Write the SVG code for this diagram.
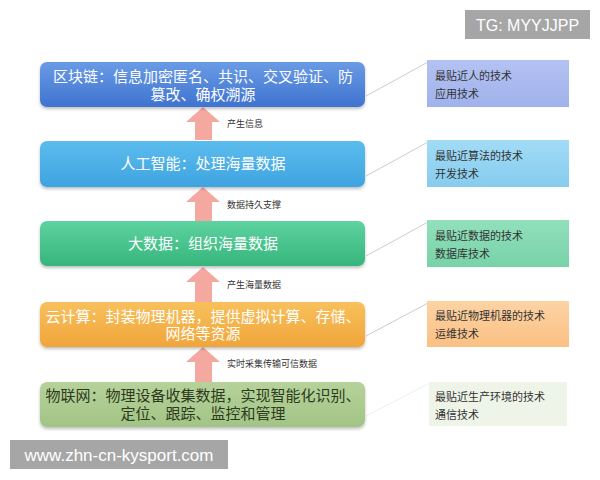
<svg xmlns="http://www.w3.org/2000/svg" width="600" height="480" viewBox="0 0 600 480">
<defs>
<linearGradient id="g1" x1="0" y1="0" x2="0" y2="1"><stop offset="0" stop-color="#6a9be6"/><stop offset="1" stop-color="#3f73cf"/></linearGradient>
<linearGradient id="g2" x1="0" y1="0" x2="0" y2="1"><stop offset="0" stop-color="#5cbcee"/><stop offset="1" stop-color="#3ea4e0"/></linearGradient>
<linearGradient id="g3" x1="0" y1="0" x2="0" y2="1"><stop offset="0" stop-color="#5ed3a0"/><stop offset="1" stop-color="#36b57c"/></linearGradient>
<linearGradient id="g4" x1="0" y1="0" x2="0" y2="1"><stop offset="0" stop-color="#f8c05c"/><stop offset="1" stop-color="#f0a53a"/></linearGradient>
<linearGradient id="g5" x1="0" y1="0" x2="0" y2="1"><stop offset="0" stop-color="#b6d29a"/><stop offset="1" stop-color="#a2c486"/></linearGradient>
<linearGradient id="r1" x1="0" y1="0" x2="0" y2="1"><stop offset="0" stop-color="#b4c2f2"/><stop offset="1" stop-color="#a0b2ec"/></linearGradient>
<linearGradient id="r2" x1="0" y1="0" x2="0" y2="1"><stop offset="0" stop-color="#a2dcf6"/><stop offset="1" stop-color="#86cbee"/></linearGradient>
<linearGradient id="r3" x1="0" y1="0" x2="0" y2="1"><stop offset="0" stop-color="#92e0bc"/><stop offset="1" stop-color="#78d2a8"/></linearGradient>
<linearGradient id="r4" x1="0" y1="0" x2="0" y2="1"><stop offset="0" stop-color="#fdd3a4"/><stop offset="1" stop-color="#fbc084"/></linearGradient>
<filter id="sh" x="-5%" y="-20%" width="110%" height="150%"><feDropShadow dx="0" dy="2" stdDeviation="1.5" flood-color="#000" flood-opacity="0.25"/></filter>
</defs>
<style>
.mt{font-family:"Liberation Sans","Noto Sans CJK SC",sans-serif;font-size:15px;fill:#fff;text-anchor:middle}
.mtd{font-family:"Liberation Sans","Noto Sans CJK SC",sans-serif;font-size:15px;fill:#2e3a20;text-anchor:middle}
.rt{font-family:"Liberation Sans","Noto Sans CJK SC",sans-serif;font-size:11px;fill:#333}
.al{font-family:"Liberation Sans","Noto Sans CJK SC",sans-serif;font-size:9px;fill:#333}
.arr{fill:#f5a8a0}
.ln{stroke:#c8ccd0;stroke-width:1;fill:none}
.wm{font-family:"Liberation Sans","Noto Sans CJK SC",sans-serif;fill:#fff;text-anchor:middle}
</style>
<rect width="600" height="480" fill="#fff"/>

<g id="connectors">
<line class="ln" x1="366" y1="96" x2="428" y2="62"/>
<line class="ln" x1="366" y1="176" x2="428" y2="142"/>
<line class="ln" x1="366" y1="256" x2="428" y2="222"/>
<line class="ln" x1="366" y1="336" x2="428" y2="303"/>
<line class="ln" x1="366" y1="416" x2="428" y2="384" stroke-opacity="0.35"/>
<polygon class="arr" points="195,140 195,122 186,122 203,107 220,122 212,122 212,140"/>
<polygon class="arr" points="195,221 195,202 186,202 203,187 220,202 212,202 212,221"/>
<polygon class="arr" points="195,302 195,282 186,282 203,267 220,282 212,282 212,302"/>
<polygon class="arr" points="195,382 195,362 186,362 203,347 220,362 212,362 212,382"/>
<text class="al" x="227" y="127">产生信息</text>
<text class="al" x="227" y="208">数据持久支撑</text>
<text class="al" x="227" y="288">产生海量数据</text>
<text class="al" x="227" y="367" fill="#444">实时采集传输可信数据</text>
</g>

<g id="blockchain">
<rect x="40" y="62" width="325" height="45" rx="7" fill="url(#g1)" filter="url(#sh)"/>
<text class="mt" x="203" y="82">区块链：信息加密匿名、共识、交叉验证、防</text>
<text class="mt" x="203" y="100">篡改、确权溯源</text>
</g>
<g id="ai">
<rect x="40" y="141" width="325" height="46" rx="7" fill="url(#g2)" filter="url(#sh)"/>
<text class="mt" x="203" y="169">人工智能：处理海量数据</text>
</g>
<g id="bigdata">
<rect x="40" y="221" width="325" height="45" rx="7" fill="url(#g3)" filter="url(#sh)"/>
<text class="mt" x="203" y="249">大数据：组织海量数据</text>
</g>
<g id="cloud">
<rect x="40" y="302" width="325" height="45" rx="7" fill="url(#g4)" filter="url(#sh)"/>
<text class="mt" x="203" y="322" fill="#fff8e8">云计算：封装物理机器，提供虚拟计算、存储、</text>
<text class="mt" x="203" y="339" fill="#fff8e8">网络等资源</text>
</g>
<g id="iot">
<rect x="40" y="382" width="325" height="45" rx="7" fill="url(#g5)" filter="url(#sh)"/>
<text class="mtd" x="203" y="401">物联网：物理设备收集数据，实现智能化识别、</text>
<text class="mtd" x="203" y="419">定位、跟踪、监控和管理</text>
</g>

<g id="r-app">
<rect x="427" y="60" width="142" height="47" fill="url(#r1)"/>
<text class="rt" x="435" y="80">最贴近人的技术</text>
<text class="rt" x="435" y="98">应用技术</text>
</g>
<g id="r-dev">
<rect x="427" y="140" width="142" height="47" fill="url(#r2)"/>
<text class="rt" x="435" y="160">最贴近算法的技术</text>
<text class="rt" x="435" y="178">开发技术</text>
</g>
<g id="r-db">
<rect x="427" y="220" width="142" height="47" fill="url(#r3)"/>
<text class="rt" x="435" y="240">最贴近数据的技术</text>
<text class="rt" x="435" y="258">数据库技术</text>
</g>
<g id="r-ops">
<rect x="427" y="301" width="142" height="46" fill="url(#r4)"/>
<text class="rt" x="435" y="320">最贴近物理机器的技术</text>
<text class="rt" x="435" y="338">运维技术</text>
</g>
<g id="r-comm">
<rect x="429" y="382" width="138" height="44" fill="#eef4e8"/>
<text class="rt" x="435" y="401">最贴近生产环境的技术</text>
<text class="rt" x="435" y="419">通信技术</text>
</g>

<g id="wm-tg">
<rect x="465" y="10" width="125" height="29" fill="#a6a6a6"/>
<text class="wm" x="527.5" y="30.5" font-size="16">TG: MYYJJPP</text>
</g>
<g id="wm-url">
<rect x="10" y="440" width="218" height="29" fill="#a6a6a6"/>
<text class="wm" x="119" y="461" font-size="17">www.zhn-cn-kysport.com</text>
</g>
</svg>
